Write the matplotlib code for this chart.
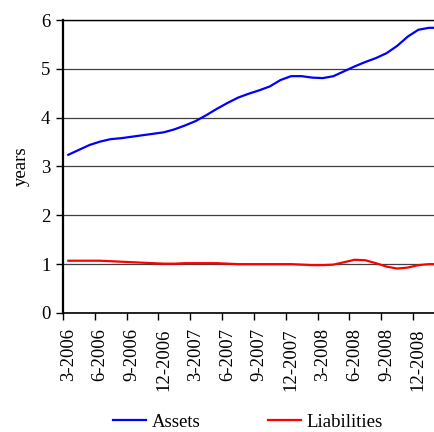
import numpy as np
import matplotlib
matplotlib.use('Agg')
import matplotlib.pyplot as plt

# monthly observations, 3-2006 .. 3-2009
months = ['3-2006', '4-2006', '5-2006', '6-2006', '7-2006', '8-2006', '9-2006', '10-2006', '11-2006',
          '12-2006', '1-2007', '2-2007', '3-2007', '4-2007', '5-2007', '6-2007', '7-2007', '8-2007',
          '9-2007', '10-2007', '11-2007', '12-2007', '1-2008', '2-2008', '3-2008', '4-2008', '5-2008',
          '6-2008', '7-2008', '8-2008', '9-2008', '10-2008', '11-2008', '12-2008', '1-2009', '2-2009',
          '3-2009']

assets = [3.24, 3.34, 3.44, 3.51, 3.56, 3.58, 3.61, 3.64, 3.67, 3.70, 3.76, 3.84, 3.93,
          4.05, 4.18, 4.30, 4.41, 4.49, 4.56, 4.64, 4.77, 4.85, 4.85, 4.82, 4.81, 4.85,
          4.95, 5.05, 5.14, 5.22, 5.32, 5.47, 5.66, 5.80, 5.84, 5.84, 5.84]

liabilities = [1.07, 1.07, 1.07, 1.07, 1.06, 1.05, 1.04, 1.03, 1.02, 1.01, 1.01, 1.02, 1.02,
               1.02, 1.02, 1.01, 1.00, 1.00, 1.00, 1.00, 1.00, 1.00, 0.99, 0.98, 0.98, 0.99,
               1.04, 1.09, 1.08, 1.02, 0.95, 0.91, 0.93, 0.98, 1.00, 1.00, 1.00]

plt.rcParams['font.family'] = ['Liberation Serif', 'DejaVu Serif']
plt.rcParams['font.size'] = 13.5

fig = plt.figure(figsize=(4.35, 4.32), dpi=100)
ax = fig.add_axes([0.1448, 0.2755, 0.9023, 0.6782])

x = np.arange(len(months))
ax.plot(x, assets, color='#0000FF', lw=1.6, label='Assets')
ax.plot(x, liabilities, color='#FF0000', lw=1.6, label='Liabilities')

ax.set_ylim(0, 6)
ax.set_xlim(-0.5, len(months) - 0.5)
ax.set_yticks(range(7))
ax.grid(axis='y', color='#404040', lw=0.9)
ax.set_axisbelow(True)

# labels every quarter, tick marks between categories
ax.set_xticks(x[::3])
ax.set_xticklabels(months[::3], rotation=90)
ax.set_xticks(np.arange(-0.5, len(months), 3), minor=True)
ax.tick_params(axis='x', which='major', length=0, pad=11)
ax.tick_params(axis='x', which='minor', length=5, width=1, direction='out')
ax.tick_params(axis='y', length=5, width=1, direction='out', pad=4)

ax.spines['right'].set_visible(False)
ax.spines['top'].set_linewidth(1.0)
ax.spines['left'].set_linewidth(1.6)
ax.spines['bottom'].set_linewidth(1.2)

ax.set_ylabel('years', labelpad=8)

fig.legend(loc='lower center', bbox_to_anchor=(0.57, -0.036), ncol=2, frameon=False,
           handlelength=1.75, handletextpad=0.3, columnspacing=3.6)

fig.savefig('out.png', dpi=100)
